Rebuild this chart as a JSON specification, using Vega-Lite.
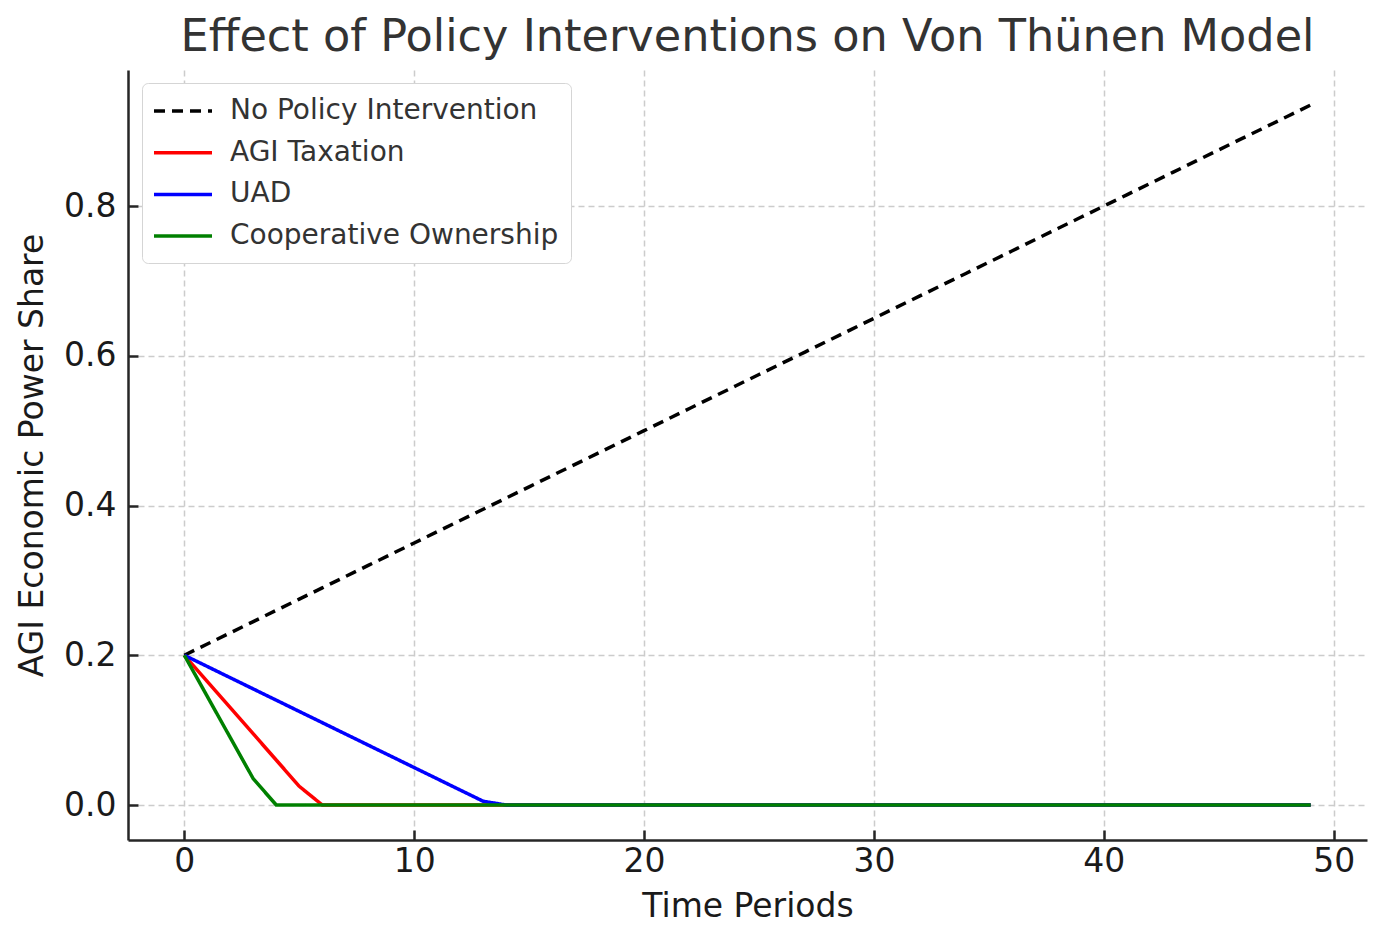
{
  "$schema": "https://vega.github.io/schema/vega-lite/v6.json",
  "autosize": "none",
  "width": 1239,
  "height": 770,
  "padding": {"left": 128, "top": 70, "right": 20, "bottom": 107},
  "background": "white",
  "config": {
    "font": "DejaVu Sans",
    "view": {"stroke": null}
  },
  "title": {
    "text": "Effect of Policy Interventions on Von Thünen Model",
    "fontSize": 44.6,
    "fontWeight": "normal",
    "color": "#333333",
    "font": "DejaVu Sans",
    "anchor": "middle",
    "offset": 9
  },
  "data": {
    "values": [
      {"t": 0, "np": 0.2, "tax": 0.2, "uad": 0.2, "coop": 0.2},
      {"t": 1, "np": 0.215, "tax": 0.165, "uad": 0.185, "coop": 0.145},
      {"t": 2, "np": 0.23, "tax": 0.13, "uad": 0.17, "coop": 0.09},
      {"t": 3, "np": 0.245, "tax": 0.095, "uad": 0.155, "coop": 0.035},
      {"t": 4, "np": 0.26, "tax": 0.06, "uad": 0.14, "coop": 0},
      {"t": 5, "np": 0.275, "tax": 0.025, "uad": 0.125, "coop": 0},
      {"t": 6, "np": 0.29, "tax": 0, "uad": 0.11, "coop": 0},
      {"t": 7, "np": 0.305, "tax": 0, "uad": 0.095, "coop": 0},
      {"t": 8, "np": 0.32, "tax": 0, "uad": 0.08, "coop": 0},
      {"t": 9, "np": 0.335, "tax": 0, "uad": 0.065, "coop": 0},
      {"t": 10, "np": 0.35, "tax": 0, "uad": 0.05, "coop": 0},
      {"t": 11, "np": 0.365, "tax": 0, "uad": 0.035, "coop": 0},
      {"t": 12, "np": 0.38, "tax": 0, "uad": 0.02, "coop": 0},
      {"t": 13, "np": 0.395, "tax": 0, "uad": 0.005, "coop": 0},
      {"t": 14, "np": 0.41, "tax": 0, "uad": 0, "coop": 0},
      {"t": 15, "np": 0.425, "tax": 0, "uad": 0, "coop": 0},
      {"t": 16, "np": 0.44, "tax": 0, "uad": 0, "coop": 0},
      {"t": 17, "np": 0.455, "tax": 0, "uad": 0, "coop": 0},
      {"t": 18, "np": 0.47, "tax": 0, "uad": 0, "coop": 0},
      {"t": 19, "np": 0.485, "tax": 0, "uad": 0, "coop": 0},
      {"t": 20, "np": 0.5, "tax": 0, "uad": 0, "coop": 0},
      {"t": 21, "np": 0.515, "tax": 0, "uad": 0, "coop": 0},
      {"t": 22, "np": 0.53, "tax": 0, "uad": 0, "coop": 0},
      {"t": 23, "np": 0.545, "tax": 0, "uad": 0, "coop": 0},
      {"t": 24, "np": 0.56, "tax": 0, "uad": 0, "coop": 0},
      {"t": 25, "np": 0.575, "tax": 0, "uad": 0, "coop": 0},
      {"t": 26, "np": 0.59, "tax": 0, "uad": 0, "coop": 0},
      {"t": 27, "np": 0.605, "tax": 0, "uad": 0, "coop": 0},
      {"t": 28, "np": 0.62, "tax": 0, "uad": 0, "coop": 0},
      {"t": 29, "np": 0.635, "tax": 0, "uad": 0, "coop": 0},
      {"t": 30, "np": 0.65, "tax": 0, "uad": 0, "coop": 0},
      {"t": 31, "np": 0.665, "tax": 0, "uad": 0, "coop": 0},
      {"t": 32, "np": 0.68, "tax": 0, "uad": 0, "coop": 0},
      {"t": 33, "np": 0.695, "tax": 0, "uad": 0, "coop": 0},
      {"t": 34, "np": 0.71, "tax": 0, "uad": 0, "coop": 0},
      {"t": 35, "np": 0.725, "tax": 0, "uad": 0, "coop": 0},
      {"t": 36, "np": 0.74, "tax": 0, "uad": 0, "coop": 0},
      {"t": 37, "np": 0.755, "tax": 0, "uad": 0, "coop": 0},
      {"t": 38, "np": 0.77, "tax": 0, "uad": 0, "coop": 0},
      {"t": 39, "np": 0.785, "tax": 0, "uad": 0, "coop": 0},
      {"t": 40, "np": 0.8, "tax": 0, "uad": 0, "coop": 0},
      {"t": 41, "np": 0.815, "tax": 0, "uad": 0, "coop": 0},
      {"t": 42, "np": 0.83, "tax": 0, "uad": 0, "coop": 0},
      {"t": 43, "np": 0.845, "tax": 0, "uad": 0, "coop": 0},
      {"t": 44, "np": 0.86, "tax": 0, "uad": 0, "coop": 0},
      {"t": 45, "np": 0.875, "tax": 0, "uad": 0, "coop": 0},
      {"t": 46, "np": 0.89, "tax": 0, "uad": 0, "coop": 0},
      {"t": 47, "np": 0.905, "tax": 0, "uad": 0, "coop": 0},
      {"t": 48, "np": 0.92, "tax": 0, "uad": 0, "coop": 0},
      {"t": 49, "np": 0.935, "tax": 0, "uad": 0, "coop": 0}
    ]
  },
  "transform": [
    {"fold": ["np", "tax", "uad", "coop"], "as": ["key", "value"]},
    {"lookup": "key", "from": {"data": {"values": [
      {"key": "np", "series": "No Policy Intervention"},
      {"key": "tax", "series": "AGI Taxation"},
      {"key": "uad", "series": "UAD"},
      {"key": "coop", "series": "Cooperative Ownership"}
    ]}, "key": "key", "fields": ["series"]}}
  ],
  "mark": {"type": "line", "strokeWidth": 3.5, "clip": true},
  "encoding": {
    "x": {
      "field": "t",
      "type": "quantitative",
      "scale": {"domain": [-2.45, 51.45], "nice": false, "zero": false},
      "axis": {
        "title": "Time Periods",
        "values": [0, 10, 20, 30, 40, 50],
        "format": "d",
        "titleFontSize": 33,
        "titleFontWeight": "normal",
        "titleColor": "#1a1a1a",
        "titlePadding": 12,
        "labelFontSize": 33,
        "labelColor": "#1a1a1a",
        "labelPadding": 15,
        "tickSize": -10,
        "tickWidth": 2.5,
        "tickColor": "#262626",
        "domainColor": "#262626",
        "domainWidth": 2.5,
        "grid": true,
        "gridColor": "#cccccc",
        "gridDash": [6, 4],
        "gridWidth": 1.5
      }
    },
    "y": {
      "field": "value",
      "type": "quantitative",
      "scale": {"domain": [-0.04675, 0.98175], "nice": false, "zero": false},
      "axis": {
        "title": "AGI Economic Power Share",
        "values": [0, 0.2, 0.4, 0.6, 0.8],
        "format": ".1f",
        "titleFontSize": 33,
        "titleFontWeight": "normal",
        "titleColor": "#1a1a1a",
        "titlePadding": 14,
        "labelFontSize": 33,
        "labelColor": "#1a1a1a",
        "labelPadding": 22,
        "tickSize": -10,
        "tickWidth": 2.5,
        "tickColor": "#262626",
        "domainColor": "#262626",
        "domainWidth": 2.5,
        "grid": true,
        "gridColor": "#cccccc",
        "gridDash": [6, 4],
        "gridWidth": 1.5
      }
    },
    "color": {
      "field": "series",
      "type": "nominal",
      "sort": ["No Policy Intervention", "AGI Taxation", "UAD", "Cooperative Ownership"],
      "scale": {
        "domain": ["No Policy Intervention", "AGI Taxation", "UAD", "Cooperative Ownership"],
        "range": ["#000000", "#ff0000", "#0000ff", "#008000"]
      },
      "legend": {
        "title": null,
        "orient": "none",
        "legendX": 14,
        "legendY": 13,
        "symbolType": "M-1.143,0H3",
        "symbolSize": 784,
        "symbolStrokeWidth": 3.5,
        "labelFontSize": 28,
        "labelColor": "#333333",
        "labelOffset": 44,
        "rowPadding": 11.7,
        "padding": 12,
        "strokeColor": "#d5d5d5",
        "fillColor": "white",
        "cornerRadius": 6,
        "labelLimit": 500
      }
    },
    "strokeDash": {
      "field": "series",
      "type": "nominal",
      "sort": ["No Policy Intervention", "AGI Taxation", "UAD", "Cooperative Ownership"],
      "scale": {
        "domain": ["No Policy Intervention", "AGI Taxation", "UAD", "Cooperative Ownership"],
        "range": [[11, 7], [1, 0], [1, 0], [1, 0]]
      },
      "legend": {
        "title": null,
        "orient": "none",
        "legendX": 14,
        "legendY": 13,
        "symbolType": "M-1.143,0H3",
        "symbolSize": 784,
        "symbolStrokeWidth": 3.5,
        "labelFontSize": 28,
        "labelColor": "#333333",
        "labelOffset": 44,
        "rowPadding": 11.7,
        "padding": 12,
        "strokeColor": "#d5d5d5",
        "fillColor": "white",
        "cornerRadius": 6,
        "labelLimit": 500
      }
    }
  }
}
